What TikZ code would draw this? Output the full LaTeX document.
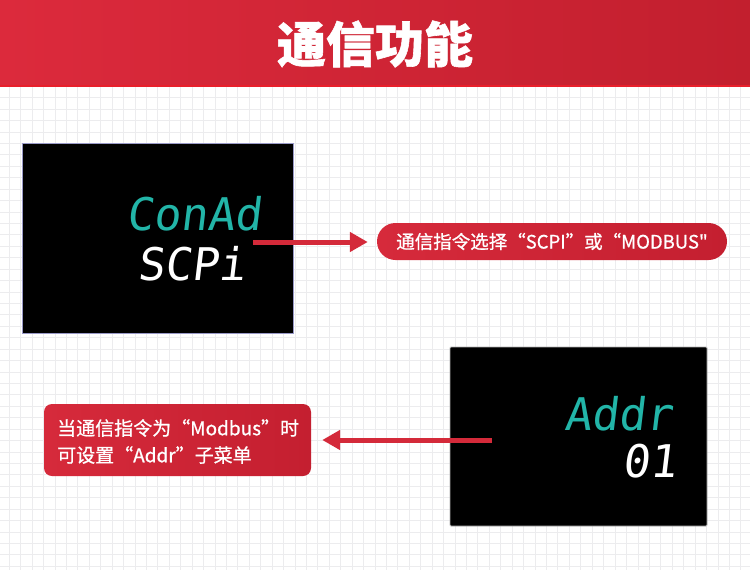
\documentclass[tikz,border=0pt]{standalone}
\usepackage{fontspec}
\usetikzlibrary{arrows.meta}
\newfontfamily\cjk{Noto Sans CJK SC}
\newfontfamily\cjkm[FakeBold=0.8]{Noto Sans CJK SC}
\newfontfamily\segfont[FakeSlant=0.12]{DejaVu Sans Mono}
\definecolor{hdrL}{HTML}{DC2A3C}
\definecolor{hdrR}{HTML}{C21F2E}
\definecolor{hdrLine}{HTML}{E8202C}
\definecolor{gridc}{HTML}{ECECEE}
\definecolor{boxL}{HTML}{D62A3B}
\definecolor{boxR}{HTML}{C41F30}
\definecolor{arrowc}{HTML}{D42A3A}
\definecolor{tealc}{HTML}{22B5A8}
\tikzset{
  gridline/.style={draw=gridc, line width=0.9pt},
  panel/.style={fill=black, draw=black!55!blue!40, line width=0.8pt},
  segteal/.style={text=tealc, font=\segfont\fontsize{45}{45}\selectfont, inner sep=0pt, anchor=east},
  segwhite/.style={text=white, font=\segfont\fontsize{45}{45}\selectfont, inner sep=0pt, anchor=east},
  callout/.style={left color=boxL, right color=boxR, text=white, draw=none},
  redarrow/.style={draw=arrowc, line width=5pt, -{Triangle[length=18pt,width=19pt]}},
}
\begin{document}
\begin{tikzpicture}[x=1pt,y=-1pt]
\useasboundingbox (0,0) rectangle (750,570);
\fill[white] (0,0) rectangle (750,570);
% grid
\foreach \k in {0,...,65} \draw[gridline] ({9.3+11.43*\k},86) -- ++(0,484);
\foreach \k in {8,...,49} \draw[gridline] (0,{6.26+11.43*\k}) -- ++(750,0);
% header
\shade[left color=hdrL, right color=hdrR] (0,0) rectangle (750,85);
\fill[hdrLine] (0,85) rectangle (750,87);
\node[text=white, font=\cjk\bfseries\addfontfeatures{FakeBold=1.2}\fontsize{49}{49}\selectfont] (title) at (375,44) {通信功能};
% display 1
\node[panel, minimum width=271pt, minimum height=190pt, inner sep=0pt] (disp1) at (157.5,238) {};
\node[segteal] (t1) at (262,214) {ConAd};
\node[segwhite] (t2) at (246,264) {SCPi};
% display 2
\node[panel, minimum width=257pt, minimum height=179pt, inner sep=0pt, draw=black!30, rounded corners=1pt] (disp2) at (578.5,436.5) {};
\node[segteal] (t3) at (673,414) {Addr};
\node[segwhite] (t4) at (677,461) {01};
% callout 1
\node[callout, minimum width=350pt, minimum height=37pt, rounded corners=18.5pt, inner sep=0pt,
      font=\cjkm\fontsize{18.5}{18.5}\selectfont] (c1) at (552,241.5) {通信指令选择“SCPI”或“MODBUS"};
% callout 2
\node[callout, minimum width=267pt, minimum height=72pt, rounded corners=8pt, inner sep=0pt] (c2) at (177.5,440) {};
\node[text=white, anchor=west, align=left, inner sep=0pt,
      font=\cjkm\fontsize{19}{27}\selectfont] (c2t) at (57,441.5) {当通信指令为“Modbus”时\\可设置“Addr”子菜单};
% arrows
\coordinate (a1s) at (253,242);
\coordinate (a1e) at ([xshift=-9pt]c1.west);
\draw[redarrow] (a1s) -- (a1e |- a1s);
\coordinate (a2s) at (492,440);
\coordinate (a2e) at ([xshift=11pt]c2.east);
\draw[redarrow] (a2s) -- (a2e |- a2s);
\end{tikzpicture}
\end{document}
